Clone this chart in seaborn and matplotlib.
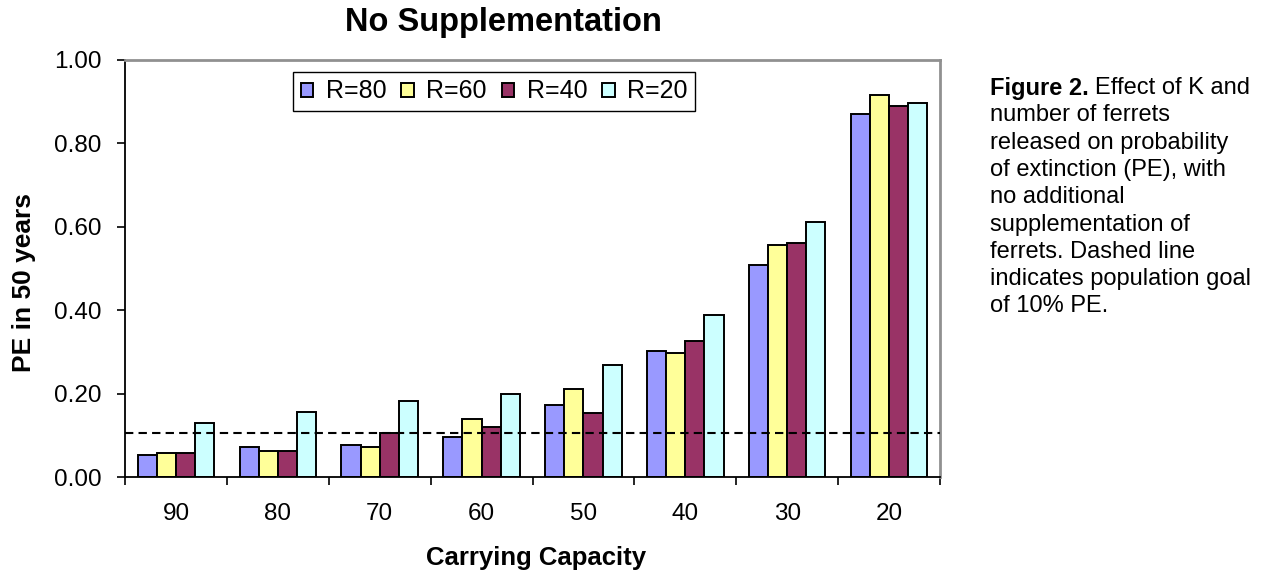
import matplotlib
matplotlib.use("Agg")
import matplotlib.pyplot as plt
from matplotlib.ticker import FixedLocator, FormatStrFormatter
import seaborn as sns
import pandas as pd

# Probability of extinction (PE) in 50 years by carrying capacity K
capacity = ["90", "80", "70", "60", "50", "40", "30", "20"]
release_labels = ["R=80", "R=60", "R=40", "R=20"]
pe_r80 = [0.052, 0.071, 0.076, 0.095, 0.172, 0.301, 0.508, 0.870]
pe_r60 = [0.057, 0.062, 0.071, 0.138, 0.210, 0.297, 0.556, 0.916]
pe_r40 = [0.057, 0.062, 0.106, 0.120, 0.153, 0.326, 0.560, 0.890]
pe_r20 = [0.129, 0.157, 0.182, 0.200, 0.268, 0.388, 0.611, 0.898]
pe_goal = 0.105
y_ticks = [0.0, 0.2, 0.4, 0.6, 0.8, 1.0]

colors = ["#9999FF", "#FFFF99", "#993366", "#CCFFFF"]

rows = []
for label, series in zip(release_labels, [pe_r80, pe_r60, pe_r40, pe_r20]):
    for k, v in zip(capacity, series):
        rows.append({"K": k, "R": label, "PE": v})
df = pd.DataFrame(rows)

sns.set_theme(style="white")
plt.rcParams["font.family"] = ["Liberation Sans", "DejaVu Sans"]
plt.rcParams["text.color"] = "black"

W, H = 1264, 578
fig = plt.figure(figsize=(W / 100, H / 100), dpi=100)
ax = fig.add_axes([125 / W, 1 - 477 / H, (940 - 125) / W, (477 - 60) / H])

sns.barplot(data=df, x="K", y="PE", hue="R", order=capacity,
            hue_order=release_labels, palette=colors, width=0.75,
            edgecolor="black", linewidth=1.4, saturation=1, ax=ax,
            errorbar=None, legend=True)

ax.axhline(pe_goal, color="black", lw=1.5, linestyle=(0, (4, 2.5)), zorder=5)

ax.set_xlim(-0.5, len(capacity) - 0.5)
ax.set_ylim(0, 1.0)
ax.yaxis.set_major_locator(FixedLocator(y_ticks))
ax.yaxis.set_major_formatter(FormatStrFormatter("%.2f"))

# group boundaries carry the tick marks; labels sit at the group centres
ax.xaxis.set_minor_locator(FixedLocator([i - 0.5 for i in range(len(capacity) + 1)]))
ax.tick_params(axis="x", which="major", length=0, pad=19, labelsize=17.5, colors="black")
ax.tick_params(axis="x", which="minor", length=6, width=1.2, color="black", direction="out", bottom=True)
ax.tick_params(axis="y", which="major", length=6, width=1.2, color="black", direction="out",
               left=True, pad=11, labelsize=17.5, labelcolor="black")

for side in ["left", "bottom"]:
    ax.spines[side].set_color("black")
    ax.spines[side].set_linewidth(1.3)
for side in ["top", "right"]:
    ax.spines[side].set_visible(True)
    ax.spines[side].set_color("#909090")
    ax.spines[side].set_linewidth(2)

ax.set_xlabel("Carrying Capacity", fontsize=18.5, fontweight="bold", color="black", va="center")
ax.xaxis.set_label_coords((536 - 125) / 815, (477 - 558) / 417)
ax.set_ylabel("PE in 50 years", fontsize=19, fontweight="bold", color="black", va="center")
ax.yaxis.set_label_coords((24 - 125) / 815, (477 - 282) / 417)

handles, labels = ax.get_legend_handles_labels()
ax.legend(handles, labels, ncol=4, loc="upper left",
          bbox_to_anchor=(293 / W, 1 - 72 / H), bbox_transform=fig.transFigure,
          borderaxespad=0, fontsize=18, frameon=True, fancybox=False,
          edgecolor="black", framealpha=1, handlelength=0.5, handleheight=0.5,
          handletextpad=0.5, columnspacing=0.6, borderpad=0.3, labelcolor="black")
ax.get_legend().get_frame().set_linewidth(1.0)

fig.text(503 / W, 1 - 22 / H, "No Supplementation", fontsize=23.5,
         fontweight="bold", ha="center", va="center", color="black")

# caption beside the chart
cap_x = 990 / W
line_h = 27.3
first_y = 88
fig.canvas.draw()
bold = fig.text(cap_x, 1 - first_y / H, "Figure 2.", fontsize=17, fontweight="bold",
                ha="left", va="center", color="black")
renderer = fig.canvas.get_renderer()
bb = bold.get_window_extent(renderer=renderer)
fig.text((bb.x1 + 6) / W, 1 - first_y / H, "Effect of K and", fontsize=17,
         ha="left", va="center", color="black")
caption_lines = ["number of ferrets", "released on probability",
                 "of extinction (PE), with", "no additional",
                 "supplementation of", "ferrets. Dashed line",
                 "indicates population goal", "of 10% PE."]
for i, line in enumerate(caption_lines, start=1):
    fig.text(cap_x, 1 - (first_y + i * line_h) / H, line, fontsize=17,
             ha="left", va="center", color="black")

fig.savefig("out.png", dpi=100)
